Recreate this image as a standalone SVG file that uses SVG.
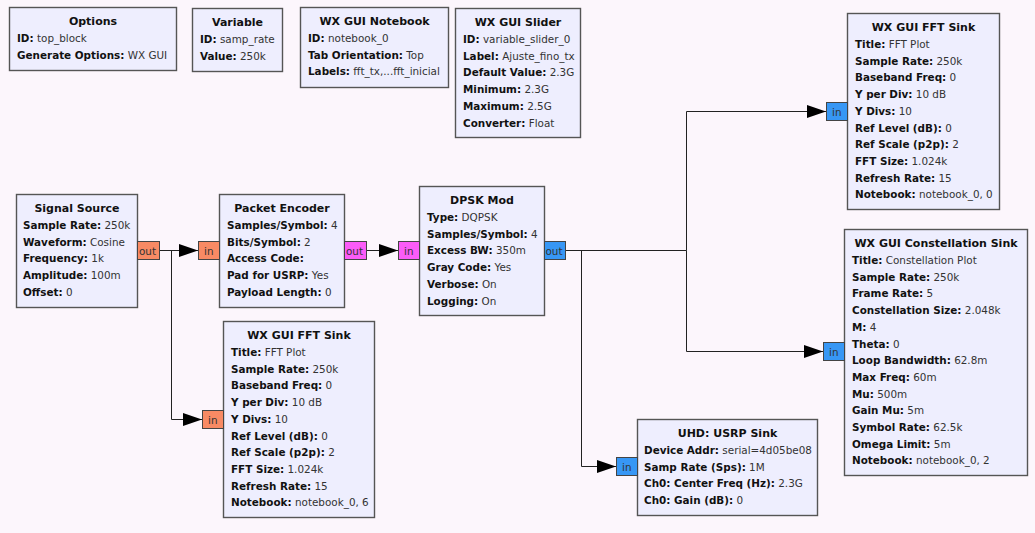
<svg xmlns="http://www.w3.org/2000/svg" width="1035" height="533" viewBox="0 0 1035 533">
<style>
.bg{fill:#fcf6fc}
.blk{fill:#eeeefe;stroke:#555;stroke-width:1.4}
.t{font-family:"DejaVu Sans",sans-serif;font-size:11px;font-weight:bold;fill:#111;text-anchor:middle}
.p{font-family:"DejaVu Sans",sans-serif;font-size:10.4px;fill:#333}
.k{font-weight:bold;fill:#111}
.port{stroke:#444;stroke-width:1}
.orange{fill:#f88a64}
.mag{fill:#fb5cf8}
.blue{fill:#3797f5}
.pl{font-family:"DejaVu Sans",sans-serif;font-size:10.4px;fill:#333}
.w{fill:none;stroke:#222;stroke-width:1}
</style>
<defs>
<marker id="ah" markerWidth="19" markerHeight="13" refX="19" refY="6.5" orient="auto" markerUnits="userSpaceOnUse">
<path d="M0,0 L19,6.5 L0,13 z" fill="#000"/>
</marker>
</defs>
<rect class="bg" x="0" y="0" width="1035" height="533"/>

<g id="connectors">
<path class="w" d="M159,250.5 H198" marker-end="url(#ah)"/>
<path class="w" d="M171.5,250.5 V419.5 H202" marker-end="url(#ah)"/>
<path class="w" d="M366,250.5 H398" marker-end="url(#ah)"/>
<path class="w" d="M565,250.5 H686.5 V111.5 H826" marker-end="url(#ah)"/>
<path class="w" d="M686.5,250.5 V351.5 H823" marker-end="url(#ah)"/>
<path class="w" d="M581.5,250.5 V466.5 H616" marker-end="url(#ah)"/>
</g>

<g id="options">
<rect class="blk" x="9.5" y="7.5" width="167" height="63"/>
<text class="t" x="93" y="25">Options</text>
<text class="p" x="17" y="42"><tspan class="k">ID:</tspan> top_block</text>
<text class="p" x="17" y="58.7"><tspan class="k">Generate Options:</tspan> WX GUI</text>
</g>

<g id="variable">
<rect class="blk" x="192.5" y="8.5" width="90" height="63"/>
<text class="t" x="237.5" y="26">Variable</text>
<text class="p" x="200" y="43"><tspan class="k">ID:</tspan> samp_rate</text>
<text class="p" x="200" y="59.7"><tspan class="k">Value:</tspan> 250k</text>
</g>

<g id="notebook">
<rect class="blk" x="300.5" y="7.5" width="148" height="80"/>
<text class="t" x="374.5" y="25">WX GUI Notebook</text>
<text class="p" x="308" y="42"><tspan class="k">ID:</tspan> notebook_0</text>
<text class="p" x="308" y="58.7"><tspan class="k">Tab Orientation:</tspan> Top</text>
<text class="p" x="308" y="75.4"><tspan class="k">Labels:</tspan> fft_tx,...fft_inicial</text>
</g>

<g id="slider">
<rect class="blk" x="455.5" y="8.5" width="125" height="129"/>
<text class="t" x="518" y="26">WX GUI Slider</text>
<text class="p" x="463" y="43"><tspan class="k">ID:</tspan> variable_slider_0</text>
<text class="p" x="463" y="59.7"><tspan class="k">Label:</tspan> Ajuste_fino_tx</text>
<text class="p" x="463" y="76.4"><tspan class="k">Default Value:</tspan> 2.3G</text>
<text class="p" x="463" y="93.1"><tspan class="k">Minimum:</tspan> 2.3G</text>
<text class="p" x="463" y="109.8"><tspan class="k">Maximum:</tspan> 2.5G</text>
<text class="p" x="463" y="126.5"><tspan class="k">Converter:</tspan> Float</text>
</g>

<g id="signal_source">
<rect class="blk" x="16.5" y="194.5" width="121" height="113"/>
<text class="t" x="77" y="212">Signal Source</text>
<text class="p" x="23" y="229"><tspan class="k">Sample Rate:</tspan> 250k</text>
<text class="p" x="23" y="245.7"><tspan class="k">Waveform:</tspan> Cosine</text>
<text class="p" x="23" y="262.4"><tspan class="k">Frequency:</tspan> 1k</text>
<text class="p" x="23" y="279.1"><tspan class="k">Amplitude:</tspan> 100m</text>
<text class="p" x="23" y="295.8"><tspan class="k">Offset:</tspan> 0</text>
<rect class="port orange" x="137.5" y="241.5" width="22" height="18"/>
<text class="pl" x="139" y="254.5">out</text>
</g>

<g id="packet_encoder">
<rect class="blk" x="219.5" y="194.5" width="125" height="113"/>
<text class="t" x="282" y="212">Packet Encoder</text>
<text class="p" x="227" y="229"><tspan class="k">Samples/Symbol:</tspan> 4</text>
<text class="p" x="227" y="245.7"><tspan class="k">Bits/Symbol:</tspan> 2</text>
<text class="p" x="227" y="262.4"><tspan class="k">Access Code:</tspan></text>
<text class="p" x="227" y="279.1"><tspan class="k">Pad for USRP:</tspan> Yes</text>
<text class="p" x="227" y="295.8"><tspan class="k">Payload Length:</tspan> 0</text>
<rect class="port orange" x="198.5" y="241.5" width="21" height="18"/>
<text class="pl" x="204" y="254.5">in</text>
<rect class="port mag" x="344.5" y="241.5" width="22" height="18"/>
<text class="pl" x="346" y="254.5">out</text>
</g>

<g id="dpsk_mod">
<rect class="blk" x="419.5" y="186.5" width="125" height="129"/>
<text class="t" x="482" y="204">DPSK Mod</text>
<text class="p" x="427" y="221"><tspan class="k">Type:</tspan> DQPSK</text>
<text class="p" x="427" y="237.7"><tspan class="k">Samples/Symbol:</tspan> 4</text>
<text class="p" x="427" y="254.4"><tspan class="k">Excess BW:</tspan> 350m</text>
<text class="p" x="427" y="271.1"><tspan class="k">Gray Code:</tspan> Yes</text>
<text class="p" x="427" y="287.8"><tspan class="k">Verbose:</tspan> On</text>
<text class="p" x="427" y="304.5"><tspan class="k">Logging:</tspan> On</text>
<rect class="port mag" x="398.5" y="241.5" width="21" height="18"/>
<text class="pl" x="404" y="254.5">in</text>
<rect class="port blue" x="544.5" y="241.5" width="21" height="18"/>
<text class="pl" x="545.5" y="254.5">out</text>
</g>

<g id="fft_sink_bottom">
<rect class="blk" x="223.5" y="321.5" width="151" height="196"/>
<text class="t" x="299" y="339">WX GUI FFT Sink</text>
<text class="p" x="231" y="356"><tspan class="k">Title:</tspan> FFT Plot</text>
<text class="p" x="231" y="372.7"><tspan class="k">Sample Rate:</tspan> 250k</text>
<text class="p" x="231" y="389.4"><tspan class="k">Baseband Freq:</tspan> 0</text>
<text class="p" x="231" y="406.1"><tspan class="k">Y per Div:</tspan> 10 dB</text>
<text class="p" x="231" y="422.8"><tspan class="k">Y Divs:</tspan> 10</text>
<text class="p" x="231" y="439.5"><tspan class="k">Ref Level (dB):</tspan> 0</text>
<text class="p" x="231" y="456.2"><tspan class="k">Ref Scale (p2p):</tspan> 2</text>
<text class="p" x="231" y="472.9"><tspan class="k">FFT Size:</tspan> 1.024k</text>
<text class="p" x="231" y="489.6"><tspan class="k">Refresh Rate:</tspan> 15</text>
<text class="p" x="231" y="506.3"><tspan class="k">Notebook:</tspan> notebook_0, 6</text>
<rect class="port orange" x="202.5" y="410.5" width="21" height="18"/>
<text class="pl" x="208" y="423.5">in</text>
</g>

<g id="usrp_sink">
<rect class="blk" x="637.5" y="419.5" width="180" height="96"/>
<text class="t" x="727.5" y="437">UHD: USRP Sink</text>
<text class="p" x="644" y="454"><tspan class="k">Device Addr:</tspan> serial=4d05be08</text>
<text class="p" x="644" y="470.7"><tspan class="k">Samp Rate (Sps):</tspan> 1M</text>
<text class="p" x="644" y="487.4"><tspan class="k">Ch0: Center Freq (Hz):</tspan> 2.3G</text>
<text class="p" x="644" y="504.1"><tspan class="k">Ch0: Gain (dB):</tspan> 0</text>
<rect class="port blue" x="616.5" y="457.5" width="21" height="18"/>
<text class="pl" x="622" y="470.5">in</text>
</g>

<g id="fft_sink_top">
<rect class="blk" x="847.5" y="13.5" width="152" height="196"/>
<text class="t" x="923.5" y="31">WX GUI FFT Sink</text>
<text class="p" x="855" y="48"><tspan class="k">Title:</tspan> FFT Plot</text>
<text class="p" x="855" y="64.7"><tspan class="k">Sample Rate:</tspan> 250k</text>
<text class="p" x="855" y="81.4"><tspan class="k">Baseband Freq:</tspan> 0</text>
<text class="p" x="855" y="98.1"><tspan class="k">Y per Div:</tspan> 10 dB</text>
<text class="p" x="855" y="114.8"><tspan class="k">Y Divs:</tspan> 10</text>
<text class="p" x="855" y="131.5"><tspan class="k">Ref Level (dB):</tspan> 0</text>
<text class="p" x="855" y="148.2"><tspan class="k">Ref Scale (p2p):</tspan> 2</text>
<text class="p" x="855" y="164.9"><tspan class="k">FFT Size:</tspan> 1.024k</text>
<text class="p" x="855" y="181.6"><tspan class="k">Refresh Rate:</tspan> 15</text>
<text class="p" x="855" y="198.3"><tspan class="k">Notebook:</tspan> notebook_0, 0</text>
<rect class="port blue" x="826.5" y="102.5" width="21" height="18"/>
<text class="pl" x="832" y="115.5">in</text>
</g>

<g id="constellation_sink">
<rect class="blk" x="844.5" y="229.5" width="183" height="246"/>
<text class="t" x="936" y="247">WX GUI Constellation Sink</text>
<text class="p" x="852" y="264"><tspan class="k">Title:</tspan> Constellation Plot</text>
<text class="p" x="852" y="280.7"><tspan class="k">Sample Rate:</tspan> 250k</text>
<text class="p" x="852" y="297.4"><tspan class="k">Frame Rate:</tspan> 5</text>
<text class="p" x="852" y="314.1"><tspan class="k">Constellation Size:</tspan> 2.048k</text>
<text class="p" x="852" y="330.8"><tspan class="k">M:</tspan> 4</text>
<text class="p" x="852" y="347.5"><tspan class="k">Theta:</tspan> 0</text>
<text class="p" x="852" y="364.2"><tspan class="k">Loop Bandwidth:</tspan> 62.8m</text>
<text class="p" x="852" y="380.9"><tspan class="k">Max Freq:</tspan> 60m</text>
<text class="p" x="852" y="397.6"><tspan class="k">Mu:</tspan> 500m</text>
<text class="p" x="852" y="414.3"><tspan class="k">Gain Mu:</tspan> 5m</text>
<text class="p" x="852" y="431"><tspan class="k">Symbol Rate:</tspan> 62.5k</text>
<text class="p" x="852" y="447.7"><tspan class="k">Omega Limit:</tspan> 5m</text>
<text class="p" x="852" y="464.4"><tspan class="k">Notebook:</tspan> notebook_0, 2</text>
<rect class="port blue" x="823.5" y="342.5" width="21" height="18"/>
<text class="pl" x="829" y="355.5">in</text>
</g>
</svg>
